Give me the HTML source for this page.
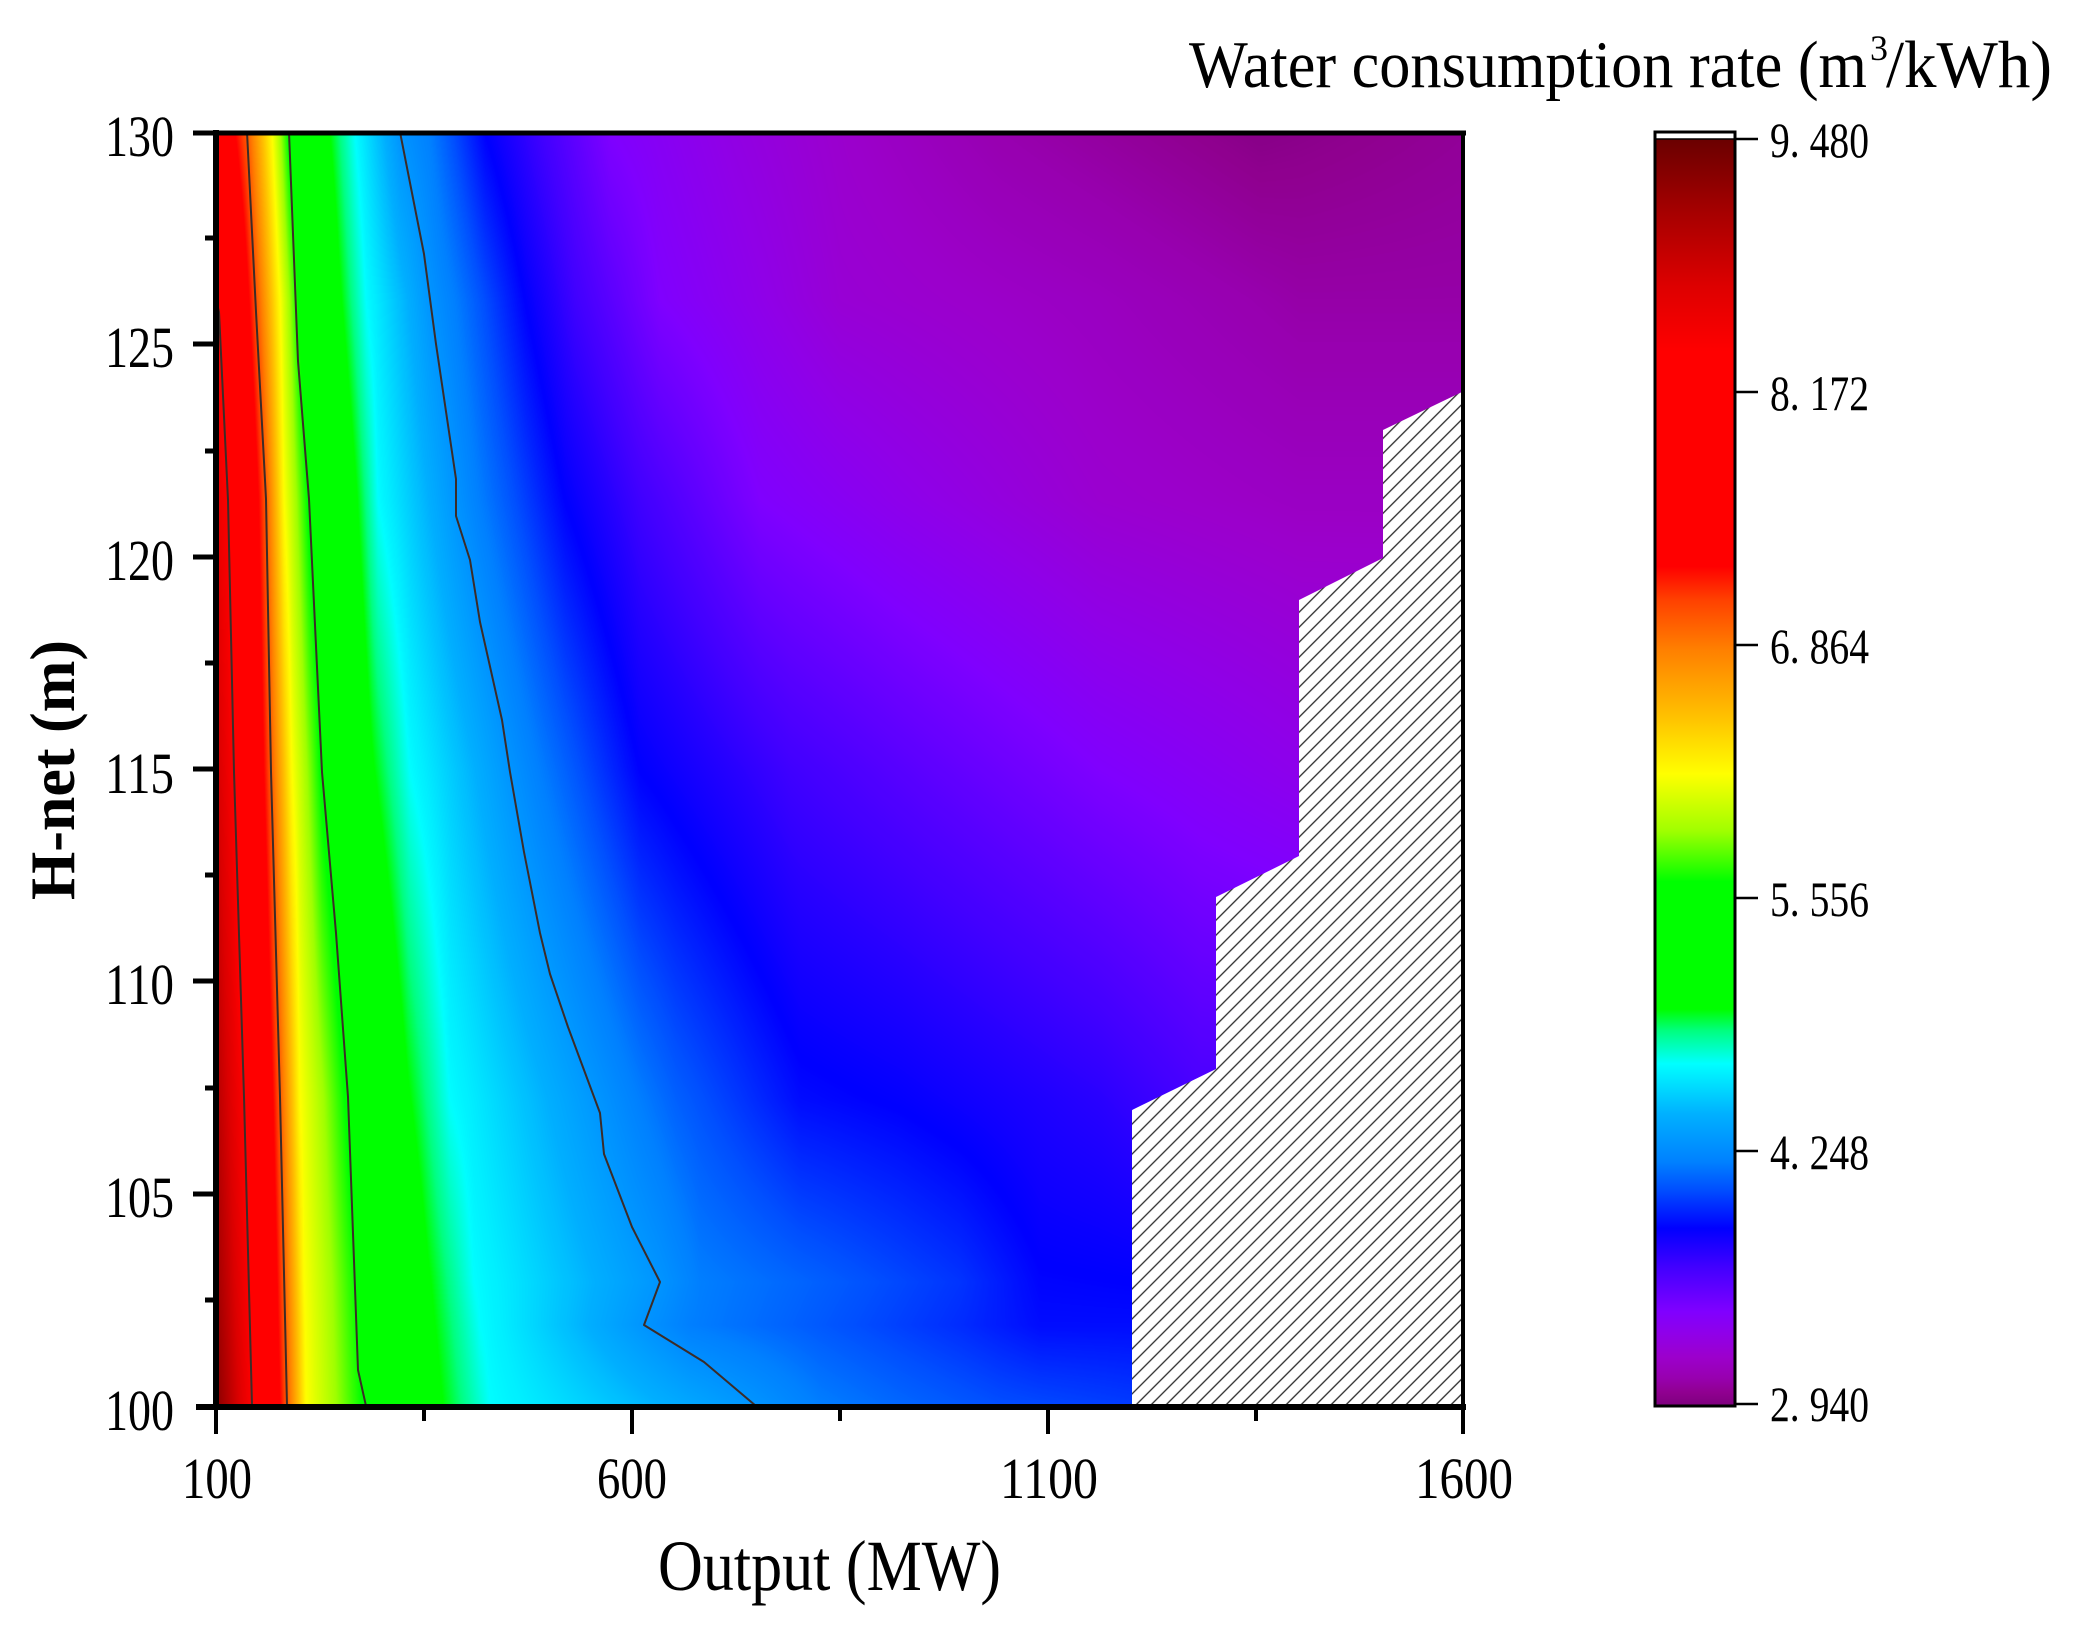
<!DOCTYPE html>
<html><head><meta charset="utf-8">
<style>
html,body{margin:0;padding:0;background:#fff;}
#wrap{position:relative;width:2076px;height:1631px;overflow:hidden;background:#fff;}
#c{position:absolute;left:216px;top:132px;width:1248px;height:1274px;}
svg{position:absolute;left:0;top:0;}
text{font-family:"Liberation Serif","DejaVu Serif",serif;fill:#000;}
</style></head><body><div id="wrap">
<svg width="2076" height="1631">
<defs>
<linearGradient id="fb" x1="216" y1="0" x2="1464" y2="0" gradientUnits="userSpaceOnUse">
<stop offset="0" stop-color="#ff0000"/><stop offset="0.045" stop-color="#ff6000"/><stop offset="0.06" stop-color="#ffff00"/><stop offset="0.085" stop-color="#00ff00"/><stop offset="0.125" stop-color="#00ff00"/><stop offset="0.156" stop-color="#00ffff"/><stop offset="0.236" stop-color="#00a0ff"/><stop offset="0.33" stop-color="#0000ff"/><stop offset="0.45" stop-color="#4000ff"/><stop offset="0.71" stop-color="#8000ff"/><stop offset="1" stop-color="#9400e0"/>
</linearGradient>
</defs>
<rect x="216" y="132" width="1248" height="1274" fill="url(#fb)"/>
</svg>
<canvas id="c" width="1248" height="1274"></canvas>
<svg width="2076" height="1631">
<defs>
<clipPath id="pc"><rect x="216" y="132" width="1248" height="1274"/></clipPath>
<pattern id="h" patternUnits="userSpaceOnUse" width="10.6" height="10.6" patternTransform="rotate(45)">
<rect width="10.6" height="10.6" fill="#fff"/>
<line x1="5.3" y1="-1" x2="5.3" y2="12" stroke="#2a2a2a" stroke-width="1.3"/>
</pattern>
<linearGradient id="cb" x1="0" y1="139" x2="0" y2="1404" gradientUnits="userSpaceOnUse">
<stop offset="0" stop-color="#6a0000"/>
<stop offset="0.052" stop-color="#a00000"/>
<stop offset="0.116" stop-color="#dd0000"/>
<stop offset="0.168" stop-color="#ff0000"/>
<stop offset="0.338" stop-color="#ff0000"/>
<stop offset="0.364" stop-color="#ff4000"/>
<stop offset="0.404" stop-color="#ff8000"/>
<stop offset="0.456" stop-color="#ffc000"/>
<stop offset="0.502" stop-color="#ffff00"/>
<stop offset="0.547" stop-color="#a0ff00"/>
<stop offset="0.587" stop-color="#00ff00"/>
<stop offset="0.688" stop-color="#00ff00"/>
<stop offset="0.705" stop-color="#00ff80"/>
<stop offset="0.731" stop-color="#00ffff"/>
<stop offset="0.771" stop-color="#00b0ff"/>
<stop offset="0.809" stop-color="#0080ff"/>
<stop offset="0.830" stop-color="#0050ff"/>
<stop offset="0.861" stop-color="#0000ff"/>
<stop offset="0.891" stop-color="#4000ff"/>
<stop offset="0.927" stop-color="#8000ff"/>
<stop offset="0.945" stop-color="#9000e8"/>
<stop offset="0.963" stop-color="#9c00cc"/>
<stop offset="0.979" stop-color="#9800b0"/>
<stop offset="0.991" stop-color="#900090"/>
<stop offset="1" stop-color="#800080"/>
</linearGradient>
</defs>

<!-- contour lines -->
<g clip-path="url(#pc)" fill="none" stroke="#3c2c28" stroke-width="2" stroke-linejoin="round">
<polyline points="216,300 219,312 228,500 234,772 244,1097 252,1406"/>
<polyline points="247,132 256,312 266,499 271,772 280,1097 287,1406"/>
<polyline points="289,132 298,361 309,499 322,772 336,933 348,1097 358,1370 366,1406"/>
<polyline points="400,132 424,254 436,344 456,479 456,516 470,560 480,622 502,720 510,772 524,852 540,933 550,974 568,1027 600,1113 604,1154 632,1227 660,1282 644,1325 704,1362 756,1406"/>
</g>

<!-- hatched region -->
<polygon points="1132,1406 1132,1110 1216,1069 1216,897 1299,856 1299,600 1383,558 1383,430 1464,391 1464,1406" fill="url(#h)"/>

<!-- axes frame -->
<line x1="213" y1="133" x2="1466" y2="133" stroke="#000" stroke-width="5"/>
<line x1="1463" y1="131" x2="1463" y2="1410" stroke="#000" stroke-width="4"/>
<line x1="216" y1="130" x2="216" y2="1410" stroke="#000" stroke-width="6"/>
<line x1="196" y1="1407" x2="1466" y2="1407" stroke="#000" stroke-width="6"/>

<!-- x ticks -->
<g stroke="#000" stroke-width="4">
<line x1="216" y1="1407" x2="216" y2="1434"/>
<line x1="632" y1="1407" x2="632" y2="1434"/>
<line x1="1048" y1="1407" x2="1048" y2="1434"/>
<line x1="1463" y1="1407" x2="1463" y2="1434"/>
<line x1="424" y1="1407" x2="424" y2="1421"/>
<line x1="840" y1="1407" x2="840" y2="1421"/>
<line x1="1256" y1="1407" x2="1256" y2="1421"/>
</g>
<!-- y ticks -->
<g stroke="#000" stroke-width="5">
<line x1="216" y1="133" x2="193" y2="133"/>
<line x1="216" y1="344" x2="193" y2="344"/>
<line x1="216" y1="557" x2="193" y2="557"/>
<line x1="216" y1="769" x2="193" y2="769"/>
<line x1="216" y1="981" x2="193" y2="981"/>
<line x1="216" y1="1194" x2="193" y2="1194"/>
<line x1="216" y1="238" x2="205" y2="238"/>
<line x1="216" y1="451" x2="205" y2="451"/>
<line x1="216" y1="663" x2="205" y2="663"/>
<line x1="216" y1="875" x2="205" y2="875"/>
<line x1="216" y1="1088" x2="205" y2="1088"/>
<line x1="216" y1="1300" x2="205" y2="1300"/>
</g>

<!-- y tick labels -->
<g font-size="58">
<text x="105" y="156" textLength="69" lengthAdjust="spacingAndGlyphs">130</text>
<text x="105" y="367" textLength="69" lengthAdjust="spacingAndGlyphs">125</text>
<text x="105" y="580" textLength="69" lengthAdjust="spacingAndGlyphs">120</text>
<text x="105" y="793" textLength="69" lengthAdjust="spacingAndGlyphs">115</text>
<text x="105" y="1004" textLength="69" lengthAdjust="spacingAndGlyphs">110</text>
<text x="105" y="1217" textLength="69" lengthAdjust="spacingAndGlyphs">105</text>
<text x="105" y="1430" textLength="69" lengthAdjust="spacingAndGlyphs">100</text>
</g>
<!-- x tick labels -->
<g font-size="58">
<text x="182" y="1498" textLength="70" lengthAdjust="spacingAndGlyphs">100</text>
<text x="597" y="1498" textLength="70" lengthAdjust="spacingAndGlyphs">600</text>
<text x="1000" y="1498" textLength="98" lengthAdjust="spacingAndGlyphs">1100</text>
<text x="1415" y="1498" textLength="98" lengthAdjust="spacingAndGlyphs">1600</text>
</g>

<!-- axis titles -->
<text x="658" y="1590" font-size="72" textLength="343" lengthAdjust="spacingAndGlyphs">Output (MW)</text>
<text x="74" y="900" font-size="63" font-weight="bold" textLength="260" lengthAdjust="spacingAndGlyphs" transform="rotate(-90 74 900)">H-net (m)</text>

<!-- colorbar -->
<rect x="1655" y="132" width="80" height="8" fill="#fff"/>
<rect x="1655" y="139" width="80" height="1266" fill="url(#cb)"/>
<rect x="1655" y="132" width="80" height="1274" fill="none" stroke="#000" stroke-width="3"/>
<line x1="1655" y1="139" x2="1735" y2="139" stroke="#000" stroke-width="1.5"/>
<g stroke="#000" stroke-width="2.5">
<line x1="1735" y1="139" x2="1758" y2="139"/>
<line x1="1735" y1="392" x2="1758" y2="392"/>
<line x1="1735" y1="645" x2="1758" y2="645"/>
<line x1="1735" y1="898" x2="1758" y2="898"/>
<line x1="1735" y1="1151" x2="1758" y2="1151"/>
<line x1="1735" y1="1404" x2="1758" y2="1404"/>
</g>
<g font-size="50">
<text x="1770" y="157" textLength="99" lengthAdjust="spacingAndGlyphs">9. 480</text>
<text x="1770" y="410" textLength="99" lengthAdjust="spacingAndGlyphs">8. 172</text>
<text x="1770" y="663" textLength="99" lengthAdjust="spacingAndGlyphs">6. 864</text>
<text x="1770" y="916" textLength="99" lengthAdjust="spacingAndGlyphs">5. 556</text>
<text x="1770" y="1169" textLength="99" lengthAdjust="spacingAndGlyphs">4. 248</text>
<text x="1770" y="1421" textLength="99" lengthAdjust="spacingAndGlyphs">2. 940</text>
</g>
<!-- colorbar title -->
<text x="1189" y="87" font-size="67" textLength="678" lengthAdjust="spacingAndGlyphs">Water consumption rate (m</text>
<text x="1870" y="60" font-size="36">3</text>
<text x="1886" y="87" font-size="67" textLength="166" lengthAdjust="spacingAndGlyphs">/kWh)</text>
</svg>
</div>
<script>
(function(){
var stops=[[2.94,0x80,0x00,0x80],[3.00,0x90,0,0x90],[3.08,0x98,0,0xb0],[3.18,0x9c,0,0xcc],[3.30,0x90,0,0xe8],[3.42,0x80,0,0xff],[3.65,0x40,0,0xff],[3.85,0,0,0xff],[4.05,0,0x50,0xff],[4.19,0,0x80,0xff],[4.44,0,0xb0,0xff],[4.70,0,0xff,0xff],[4.87,0,0xff,0x80],[4.98,0,0xff,0],[5.64,0,0xff,0],[5.90,0xa0,0xff,0],[6.20,0xff,0xff,0],[6.50,0xff,0xc0,0],[6.84,0xff,0x80,0],[7.10,0xff,0x40,0],[7.27,0xff,0,0],[8.38,0xff,0,0],[8.72,0xdd,0,0],[9.14,0xa0,0,0],[9.48,0x6a,0,0]];
function col(v){
  if(v<=stops[0][0]) return [stops[0][1],stops[0][2],stops[0][3]];
  for(var i=1;i<stops.length;i++){
    if(v<=stops[i][0]){var a=stops[i-1],b=stops[i],t=(v-a[0])/(b[0]-a[0]);
      return [a[1]+(b[1]-a[1])*t,a[2]+(b[2]-a[2])*t,a[3]+(b[3]-a[3])*t];}
  }
  var l=stops[stops.length-1];return [l[1],l[2],l[3]];
}
var N=2048,vmin=2.9,vmax=9.5,lut=new Uint8Array(N*3);
for(var i=0;i<N;i++){var c=col(vmin+(vmax-vmin)*i/(N-1));lut[i*3]=c[0];lut[i*3+1]=c[1];lut[i*3+2]=c[2];}
var rows=[
[132,[[216,7.7],[247,7.0],[272,6.2],[289,5.6],[328,5.0],[355,4.7],[400,4.3],[430,4.19],[485,3.85],[540,3.65],[610,3.42],[736,3.28],[850,3.18],[1000,3.08],[1260,2.97],[1464,3.02]]],
[300,[[216,8.4],[257,7.0],[280,6.2],[299,5.6],[340,5.0],[366,4.7],[430,4.3],[455,4.19],[525,3.85],[575,3.65],[660,3.42],[840,3.22],[1100,3.14],[1300,3.06],[1464,3.06]]],
[500,[[216,8.6],[228,8.4],[266,7.0],[284,6.2],[309,5.6],[356,5.0],[378,4.7],[456,4.3],[480,4.19],[565,3.85],[640,3.65],[760,3.42],[900,3.32],[1100,3.2],[1300,3.15],[1464,3.15]]],
[770,[[216,8.8],[234,8.4],[271,7.0],[292,6.2],[322,5.6],[372,5.0],[410,4.7],[510,4.3],[540,4.19],[640,3.85],[790,3.65],[920,3.55],[1100,3.42],[1300,3.32],[1464,3.3]]],
[1100,[[216,9.0],[244,8.4],[280,7.0],[300,6.2],[348,5.6],[408,5.0],[450,4.7],[600,4.3],[640,4.19],[676,4.1],[800,3.88],[900,3.84],[1100,3.72],[1200,3.62],[1464,3.6]]],
[1282,[[216,9.15],[249,8.4],[284,7.0],[304,6.2],[360,5.6],[428,5.0],[474,4.7],[660,4.3],[700,4.19],[840,4.08],[960,3.98],[1040,3.86],[1132,3.85],[1464,3.85]]],
[1325,[[216,9.2],[250,8.4],[285,7.0],[305,6.2],[362,5.6],[432,5.0],[480,4.7],[644,4.3],[690,4.19],[840,4.06],[960,3.96],[1040,3.88],[1132,3.88],[1464,3.88]]],
[1406,[[216,9.3],[252,8.4],[287,7.0],[306,6.2],[366,5.6],[440,5.0],[490,4.7],[756,4.3],[820,4.19],[900,4.12],[1000,4.05],[1132,4.0],[1464,4.0]]]
];
var W=1248,H=1274,X0=216,Y0=132;
function rowArr(kn){var a=new Float32Array(W),k=0;
  for(var i=0;i<W;i++){var x=X0+i+0.5;
    while(k<kn.length-2&&x>kn[k+1][0])k++;
    var x1=kn[k][0],v1=kn[k][1],x2=kn[k+1][0],v2=kn[k+1][1],t=(x-x1)/(x2-x1);
    if(t<0)t=0;if(t>1)t=1;a[i]=v1+(v2-v1)*t;}
  return a;}
var arrs=rows.map(function(r){return rowArr(r[1]);});
var cv=document.getElementById('c');if(!cv.getContext)return;
var ctx=cv.getContext('2d'),img=ctx.createImageData(W,H),d=img.data;
for(var j=0;j<H;j++){var y=Y0+j+0.5,k=0;
  while(k<rows.length-2&&y>rows[k+1][0])k++;
  var ya=rows[k][0],yb=rows[k+1][0],t=(y-ya)/(yb-ya);if(t<0)t=0;if(t>1)t=1;
  var A=arrs[k],B=arrs[k+1];
  for(var i=0;i<W;i++){var v=A[i]+(B[i]-A[i])*t;
    var idx=Math.round((v-vmin)/(vmax-vmin)*(N-1));if(idx<0)idx=0;if(idx>=N)idx=N-1;
    var p=(j*W+i)*4;d[p]=lut[idx*3];d[p+1]=lut[idx*3+1];d[p+2]=lut[idx*3+2];d[p+3]=255;}
}
ctx.putImageData(img,0,0);
})();
</script>
</body></html>
